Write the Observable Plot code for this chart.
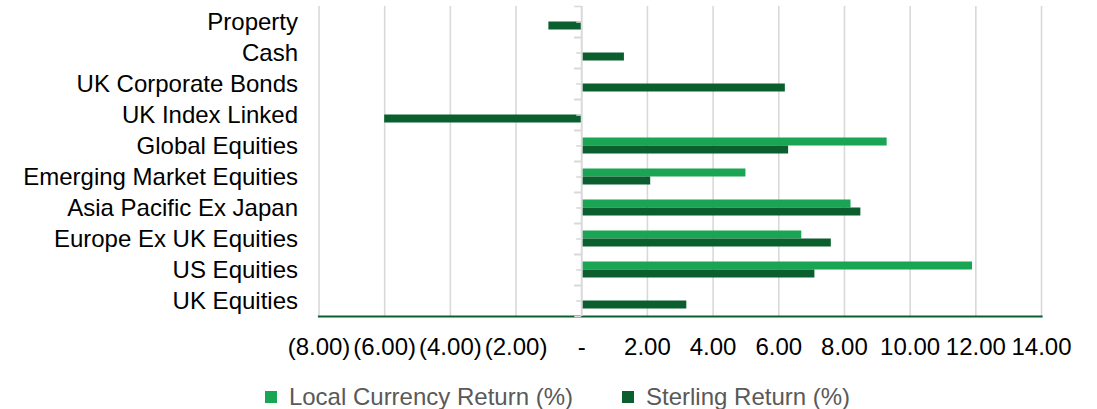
<!DOCTYPE html>
<html>
<head>
<meta charset="utf-8">
<script src="https://cdn.jsdelivr.net/npm/d3@7"></script>
<script src="https://cdn.jsdelivr.net/npm/@observablehq/plot@0.6"></script>
<style>
  html, body { margin: 0; padding: 0; background: #fff; }
  body { width: 1097px; height: 409px; overflow: hidden; font-family: "Liberation Sans", Arial, sans-serif; }
  #legend { display: flex; justify-content: center; align-items: center; height: 29px; margin-top: 2px; padding-left: 18px; font-size: 24px; color: #595959; }
  .item { display: flex; align-items: center; }
  .sw { width: 12px; height: 12px; margin-right: 12px; }
  .gap { width: 49px; }
</style>
</head>
<body>
<div id="chart"></div>
<div id="legend"></div>
<script>
const categories = ["Property","Cash","UK Corporate Bonds","UK Index Linked","Global Equities","Emerging Market Equities","Asia Pacific Ex Japan","Europe Ex UK Equities","US Equities","UK Equities"];
const localReturn = [null, null, null, null, 9.3, 5.0, 8.2, 6.7, 11.9, null];
const sterlingReturn = [-1.0, 1.3, 6.2, -6.0, 6.3, 2.1, 8.5, 7.6, 7.1, 3.2];
const xTicks = [-8, -6, -4, -2, 0, 2, 4, 6, 8, 10, 12, 14];
const seriesNames = ["Local Currency Return (%)", "Sterling Return (%)"];
const colors = ["#1aa555", "#0b5f2f"];

const localData = categories.map((c, i) => ({cat: c, v: localReturn[i]})).filter(d => d.v != null);
const sterlingData = categories.map((c, i) => ({cat: c, v: sterlingReturn[i]})).filter(d => d.v != null);

const W = 1097, H = 380, mL = 318.5, mR = 56, mT = 6, mB = 64;
const xMin = -8, xMax = 14;
const zeroPx = (0 - xMin) / (xMax - xMin) * (W - mL - mR);
const step = (H - mT - mB) / categories.length;

const fmt = d => d === 0 ? "-" : d < 0 ? `(${(-d).toFixed(2)})` : d.toFixed(2);
const tickStyle = {text: null, label: null, stroke: "#d9d9d9", strokeWidth: 1.6, strokeOpacity: 1};

const plot = Plot.plot({
  width: W, height: H,
  marginLeft: mL, marginRight: mR, marginTop: mT, marginBottom: mB,
  style: {fontFamily: "'Liberation Sans', Arial, sans-serif", fontSize: "24px", color: "#000", background: "#fff"},
  x: {domain: [xMin, xMax], ticks: xTicks, label: null},
  y: {domain: categories, padding: 0, label: null},
  marks: [
    Plot.gridX(xTicks.filter(t => t !== 0), {stroke: "#d9d9d9", strokeOpacity: 1, strokeWidth: 1.6}),
    Plot.barX(localData, {x: "v", y: "cat", fill: colors[0], insetTop: step/2 - 8, insetBottom: step/2}),
    Plot.barX(sterlingData, {x: "v", y: "cat", fill: colors[1], insetTop: step/2, insetBottom: step/2 - 8}),
    Plot.frame({anchor: "bottom", stroke: colors[1], strokeWidth: 2.2}),
    Plot.ruleX([0], {stroke: "#d9d9d9", strokeWidth: 2}),
    Plot.axisY({anchor: "left", dx: zeroPx, tickSize: 5, ...tickStyle}),
    Plot.axisY({anchor: "left", dx: zeroPx, dy: -step/2, tickSize: 7, ...tickStyle}),
    Plot.axisY({anchor: "left", dx: zeroPx, dy: step/2, tickSize: 7, ...tickStyle}),
    Plot.axisY({anchor: "left", tickSize: 0, tickPadding: 21, label: null, fill: "#000"}),
    Plot.axisX({anchor: "bottom", ticks: xTicks, tickFormat: fmt, tickSize: 0, tickPadding: 21, label: null, fill: "#000"})
  ]
});
document.getElementById("chart").appendChild(plot);

const legend = document.getElementById("legend");
seriesNames.forEach((name, i) => {
  if (i > 0) { const g = document.createElement("div"); g.className = "gap"; legend.appendChild(g); }
  const it = document.createElement("div"); it.className = "item";
  const sw = document.createElement("div"); sw.className = "sw"; sw.style.background = colors[i];
  const tx = document.createElement("span"); tx.textContent = name;
  it.appendChild(sw); it.appendChild(tx); legend.appendChild(it);
});
</script>
</body>
</html>
